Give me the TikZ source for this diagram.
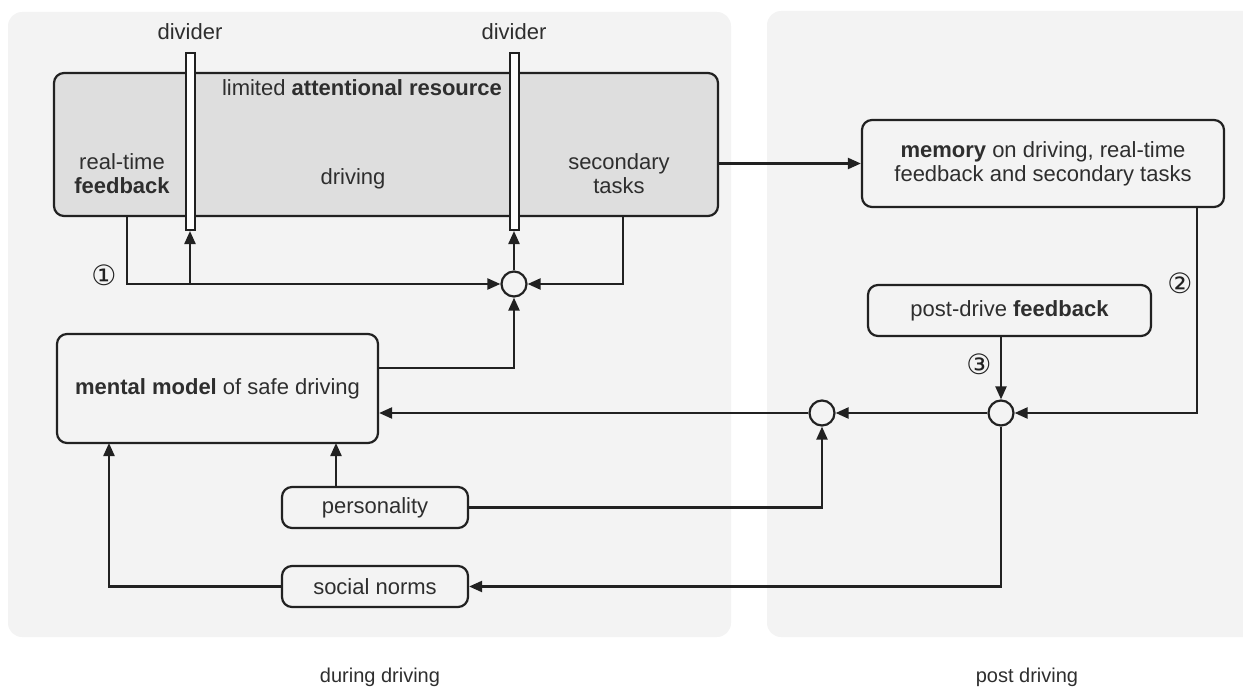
\documentclass[tikz,border=0pt]{standalone}
\usepackage{fontspec}
\setmainfont{Liberation Sans}
\newfontfamily\circledfont{DejaVu Sans}
\usetikzlibrary{arrows.meta}

\newlength{\du}
\setlength{\du}{0.5pt}

\definecolor{panelcolor}{rgb}{0.953,0.953,0.953}
\definecolor{resourcecolor}{rgb}{0.871,0.871,0.871}
\definecolor{dialinecolor}{rgb}{0.130,0.130,0.130}
\definecolor{diatextcolor}{rgb}{0.180,0.180,0.180}

\tikzset{
  diabox/.style={draw=dialinecolor, line width=1.1pt, rounded corners=5pt,
    inner sep=0pt, align=center, text=diatextcolor},
  diasum/.style={circle, draw=dialinecolor, line width=1.1pt,
    minimum size=25\du, inner sep=0pt},
  divider/.style={draw=dialinecolor, fill=white, line width=1pt,
    minimum width=9\du, minimum height=177\du, inner sep=0pt},
  dialabel/.style={text=diatextcolor, align=center, inner sep=0pt},
  dianumber/.style={text=dialinecolor, inner sep=0pt,
    font=\circledfont\fontsize{14}{14}\selectfont},
  diaflow/.style={draw=dialinecolor, line width=1.1pt,
    -{Triangle[length=6.5pt,width=5.5pt]}},
}

\begin{document}
\begin{tikzpicture}[font=\fontsize{11}{12}\selectfont]
\pgftransformxscale{1.000000}
\pgftransformyscale{-1.000000}
\useasboundingbox (0\du,0\du) rectangle (1243\du,690\du);
% panels
\fill[panelcolor, rounded corners=14\du] (8\du,12\du) rectangle (731\du,637\du);
\fill[panelcolor] (1243\du,11\du) [rounded corners=14\du] -- (767\du,11\du)
  -- (767\du,637\du) [sharp corners] -- (1243\du,637\du) -- cycle;
\node[dialabel, font=\fontsize{10}{12}\selectfont] (during) at (380\du,677\du) {during driving};
\node[dialabel, font=\fontsize{10}{12}\selectfont] (post) at (1027\du,677\du) {post driving};
% attentional resource
\node[diabox, fill=resourcecolor, minimum width=664\du, minimum height=143\du]
  (resource) at (386\du,144.5\du) {};
\node[divider] (div1) at (190\du,141.5\du) {};
\node[divider] (div2) at (514\du,141.5\du) {};
\node[dialabel] (div1label) at (190\du,32\du) {divider};
\node[dialabel] (div2label) at (514\du,32\du) {divider};
\node[dialabel] (limited) at (362\du,88\du) {limited \textbf{attentional resource}};
\node[dialabel] (realtime) at (122\du,174\du) {real-time\\\textbf{feedback}};
\node[dialabel] (driving) at (353\du,179\du) {driving};
\node[dialabel] (secondary) at (619\du,174\du) {secondary\\tasks};
% other boxes
\node[diabox, minimum width=362\du, minimum height=87\du] (memory) at (1043\du,163.5\du)
  {\textbf{memory} on driving, real-time\\feedback and secondary tasks};
\node[diabox, minimum width=321\du, minimum height=109\du] (mental) at (217.5\du,388.5\du)
  {\textbf{mental model} of safe driving};
\node[diabox, minimum width=283\du, minimum height=51\du] (postfb) at (1009.5\du,310.5\du)
  {post-drive \textbf{feedback}};
\node[diabox, minimum width=186\du, minimum height=41\du] (personality) at (375\du,507.5\du)
  {personality};
\node[diabox, minimum width=186\du, minimum height=41\du] (norms) at (375\du,586.5\du)
  {social norms};
% comparators
\node[diasum] (sum1) at (514\du,284\du) {};
\node[diasum] (sum2) at (822\du,413\du) {};
\node[diasum] (sum3) at (1001\du,413\du) {};
\node[dianumber] (n1) at (104\du,275\du) {①};
\node[dianumber] (n2) at (1180\du,283\du) {②};
\node[dianumber] (n3) at (979\du,364\du) {③};
% free ends
\coordinate (fbdrop) at (127\du,216\du);
\coordinate (stdrop) at (623\du,216\du);
\coordinate (memdrop) at (1197\du,207\du);
\coordinate (mmout) at (378\du,368\du);
\coordinate (persup) at (336\du,443\du);
\coordinate (normsup) at (109\du,443\du);
% connectors
\draw[diaflow] (resource.east |- memory.west) -- (memory.west);
\draw[diaflow] (fbdrop) |- (sum1.west);
\draw[diaflow] (div1.south |- sum1.west) -- (div1.south);
\draw[diaflow] (sum1.north) -- (div2.south);
\draw[diaflow] (stdrop) |- (sum1.east);
\draw[diaflow] (mmout) -| (sum1.south);
\draw[diaflow] (memdrop) |- (sum3.east);
\draw[diaflow] (postfb.south -| sum3.north) -- (sum3.north);
\draw[diaflow] (sum3.west) -- (sum2.east);
\draw[diaflow] (sum2.west) -- (sum2.west -| mental.east);
\draw[diaflow] (personality.north -| persup) -- (persup);
\draw[diaflow] (personality.east) -| (sum2.south);
\draw[diaflow] (sum3.south) |- (norms.east);
\draw[diaflow] (norms.west) -| (normsup);
\end{tikzpicture}
\end{document}
